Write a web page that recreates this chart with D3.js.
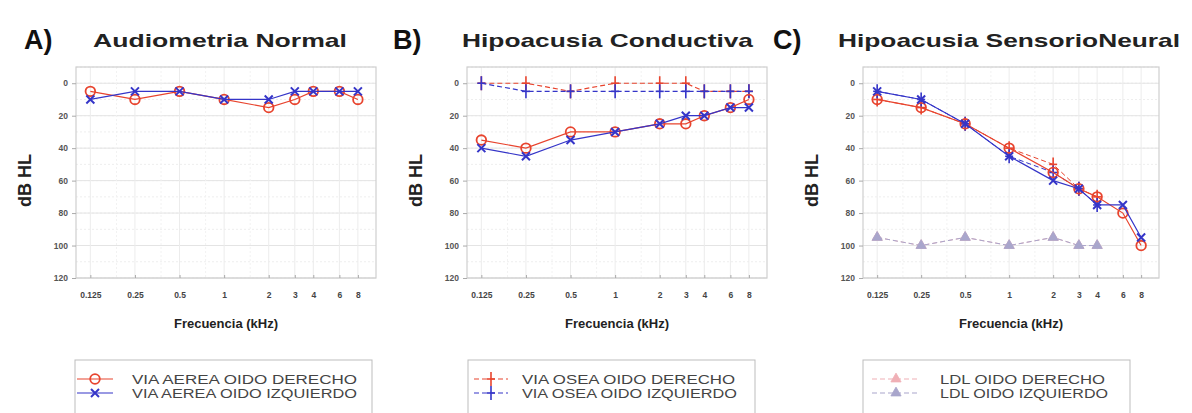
<!DOCTYPE html>
<html><head><meta charset="utf-8">
<script src="https://cdn.jsdelivr.net/npm/d3@7"></script>
<style>body{margin:0;background:#fff}svg{display:block}</style>
</head><body>
<svg id="c" width="1192" height="413"></svg>
<script>
const freqs = [0.125,0.25,0.5,1,2,3,4,6,8];
const freqLabels = ["0.125","0.25","0.5","1","2","3","4","6","8"];
const yTicks = [0,20,40,60,80,100,120];
const ldlFreqs = [0.125,0.25,0.5,1,2,3,4];
const boneFreqsC = [0.125,0.25,0.5,1,2,3,4];

const A_airRight = [5,10,5,10,15,10,5,5,10];
const A_airLeft  = [10,5,5,10,10,5,5,5,5];

const B_airRight = [35,40,30,30,25,25,20,15,10];
const B_airLeft  = [40,45,35,30,25,20,20,15,15];
const B_boneRight = [0,0,5,0,0,0,5,5,5];
const B_boneLeft  = [0,5,5,5,5,5,5,5,5];

const C_airRight = [10,15,25,40,55,65,70,80,100];
const C_airLeft  = [5,10,25,45,60,65,75,75,95];
const C_boneRight = [10,15,25,40,50,65,70];
const C_boneLeft  = [5,10,25,45,55,65,75];
const C_ldlRight = [95,100,95,100,95,100,100];
const C_ldlLeft  = [95,100,95,100,95,100,100];

const panelLetters = ["A)","B)","C)"];
const panelTitles = ["Audiometria Normal","Hipoacusia Conductiva","Hipoacusia SensorioNeural"];
const xLabel = "Frecuencia (kHz)";
const yLabel = "dB HL";
const legendA = ["VIA AEREA OIDO DERECHO","VIA AEREA OIDO IZQUIERDO"];
const legendB = ["VIA OSEA OIDO DERECHO","VIA OSEA OIDO IZQUIERDO"];
const legendC = ["LDL OIDO DERECHO","LDL OIDO IZQUIERDO"];

const RED = "#e8442e", BLUE = "#3535c8", RED_L = "#f0b0b6", BLUE_L = "#a9a6cc";
const svg = d3.select("#c");
const FONT = "Liberation Sans, Arial, sans-serif";

const panels = [
  {x0:76, x1:376, letterX:24, titleW:254, titleX:93, legX0:75, legX1:372, symX0:77, symX1:113, txtX:132, txtW:[225,225]},
  {x0:467, x1:767, letterX:393, titleW:291, titleX:462, legX0:468, legX1:755, symX0:474, symX1:508, txtX:522, txtW:[213,215]},
  {x0:863, x1:1159, letterX:773, titleW:342, titleX:838, legX0:863, legX1:1130, symX0:872, symX1:920, txtX:940, txtW:[165,168]}
];
const yTop = 67, yBot = 278;

function plusMarker(g, x, y, color){
  g.append("line").attr("x1",x).attr("x2",x).attr("y1",y-7).attr("y2",y+7).attr("stroke",color).attr("stroke-width",1.6);
  g.append("line").attr("x1",x-4).attr("x2",x+4).attr("y1",y).attr("y2",y).attr("stroke",color).attr("stroke-width",1.6);
}
function xMarker(g, x, y, color){
  const s=4;
  g.append("path").attr("d",`M${x-s},${y-s}L${x+s},${y+s}M${x-s},${y+s}L${x+s},${y-s}`).attr("stroke",color).attr("stroke-width",2);
}
function circMarker(g,x,y,color){
  g.append("circle").attr("cx",x).attr("cy",y).attr("r",4.8).attr("fill","none").attr("stroke",color).attr("stroke-width",1.8);
}
function triMarker(g,x,y,color){
  g.append("path").attr("d",d3.symbol(d3.symbolTriangle,45)()).attr("transform",`translate(${x},${y})`).attr("fill",color).attr("stroke",color).attr("stroke-width",0.8);
}

panels.forEach((p,i)=>{
  const x = d3.scaleLog().domain([0.1,10.6]).range([p.x0,p.x1]);
  const y = d3.scaleLinear().domain([-10,120]).range([yTop,yBot]);
  const g = svg.append("g");

  const minorY = d3.range(-10,121,10);
  g.selectAll(".mgy").data(minorY).join("line")
    .attr("x1",p.x0).attr("x2",p.x1).attr("y1",d=>y(d)).attr("y2",d=>y(d))
    .attr("stroke","#eeeeee").attr("stroke-dasharray","2,2");
  g.selectAll(".gy").data(yTicks).join("line")
    .attr("x1",p.x0).attr("x2",p.x1).attr("y1",d=>y(d)).attr("y2",d=>y(d))
    .attr("stroke","#e4e4e4");
  g.selectAll(".gx").data(freqs).join("line")
    .attr("x1",d=>x(d)).attr("x2",d=>x(d)).attr("y1",yTop).attr("y2",yBot)
    .attr("stroke","#ececec");
  const minorX = [0.1875,0.375,0.75,1.5];
  g.selectAll(".mgx").data(minorX).join("line")
    .attr("x1",d=>x(d)).attr("x2",d=>x(d)).attr("y1",yTop).attr("y2",yBot)
    .attr("stroke","#f2f2f2").attr("stroke-dasharray","2,2");
  g.append("rect").attr("x",p.x0).attr("y",yTop).attr("width",p.x1-p.x0).attr("height",yBot-yTop)
    .attr("fill","none").attr("stroke","#cfcfcf").attr("stroke-width",1.2);

  const ya = d3.axisLeft(y).tickValues(yTicks).tickSize(4).tickPadding(4);
  const yg = g.append("g").attr("transform",`translate(${p.x0},0)`).call(ya);
  yg.select(".domain").remove();
  yg.selectAll("line").attr("stroke","#aaa");
  yg.selectAll("text").attr("font-family",FONT).attr("font-size",8.5).attr("font-weight","bold").attr("fill","#555");
  const xa = d3.axisBottom(x).tickValues(freqs).tickFormat((d,j)=>freqLabels[j]).tickSize(-3).tickPadding(14);
  const xg = g.append("g").attr("transform",`translate(0,${yBot})`).call(xa);
  xg.select(".domain").remove();
  xg.selectAll("line").attr("stroke","#aaa");
  xg.selectAll("text").attr("font-family",FONT).attr("font-size",8.5).attr("font-weight","bold").attr("fill","#444");

  g.append("text").attr("x",p.letterX).attr("y",49).attr("font-family",FONT).attr("font-size",27).attr("font-weight","bold").attr("fill","#111").text(panelLetters[i]);
  g.append("text").attr("x",p.titleX).attr("y",47).attr("font-family",FONT).attr("font-size",19).attr("font-weight","bold").attr("fill","#222")
    .attr("textLength",p.titleW).attr("lengthAdjust","spacingAndGlyphs").text(panelTitles[i]);
  g.append("text").attr("transform",`translate(${p.x0-45},${(yTop+yBot)/2+8}) rotate(-90)`).attr("text-anchor","middle")
    .attr("font-family",FONT).attr("font-size",18).attr("font-weight","bold").attr("fill","#222").text(yLabel);
  g.append("text").attr("x",(p.x0+p.x1)/2).attr("y",328).attr("text-anchor","middle")
    .attr("font-family",FONT).attr("font-size",13).attr("font-weight","bold").attr("fill","#222").text(xLabel);

  const line = (fx)=>d3.line().x((d,j)=>x(fx[j])).y(d=>y(d));
  function series(vals, fx, color, dashed, marker, width){
    g.append("path").datum(vals).attr("d",line(fx)).attr("fill","none").attr("stroke",color)
      .attr("stroke-width",width||1.2).attr("stroke-dasharray",dashed?"5,3":null);
    vals.forEach((v,j)=>marker(g,x(fx[j]),y(v),color));
  }

  let leg, legStyles;
  if(i===0){
    series(A_airRight,freqs,RED,false,circMarker);
    series(A_airLeft,freqs,BLUE,false,xMarker);
    leg = legendA; legStyles=[[RED,false,circMarker],[BLUE,false,xMarker]];
  } else if(i===1){
    series(B_boneRight,freqs,RED,true,plusMarker);
    series(B_boneLeft,freqs,BLUE,true,plusMarker);
    series(B_airRight,freqs,RED,false,circMarker);
    series(B_airLeft,freqs,BLUE,false,xMarker);
    leg = legendB; legStyles=[[RED,true,plusMarker],[BLUE,true,plusMarker]];
  } else {
    series(C_ldlRight,ldlFreqs,RED_L,true,triMarker,1);
    series(C_ldlLeft,ldlFreqs,BLUE_L,true,triMarker,1);
    series(C_boneRight,boneFreqsC,RED,true,plusMarker,1);
    series(C_boneLeft,boneFreqsC,BLUE,true,plusMarker,1);
    series(C_airRight,freqs,RED,false,circMarker);
    series(C_airLeft,freqs,BLUE,false,xMarker);
    leg = legendC; legStyles=[[RED_L,true,triMarker],[BLUE_L,true,triMarker]];
  }

  g.append("rect").attr("x",p.legX0).attr("y",360).attr("width",p.legX1-p.legX0).attr("height",60)
    .attr("fill","#fff").attr("stroke","#bdbdbd").attr("stroke-width",1);
  leg.forEach((t,j)=>{
    const ly = 379 + j*14;
    const [c,d,m] = legStyles[j];
    g.append("line").attr("x1",p.symX0).attr("x2",p.symX1).attr("y1",ly).attr("y2",ly).attr("stroke",c).attr("stroke-width",1.2).attr("stroke-dasharray",d?"5,3":null);
    m(g,(p.symX0+p.symX1)/2,ly,c);
    g.append("text").attr("x",p.txtX).attr("y",ly+4.5).attr("font-family",FONT).attr("font-size",12.5).attr("fill","#444")
      .attr("textLength",p.txtW[j]).attr("lengthAdjust","spacingAndGlyphs").text(t);
  });
});
</script>
</body></html>
